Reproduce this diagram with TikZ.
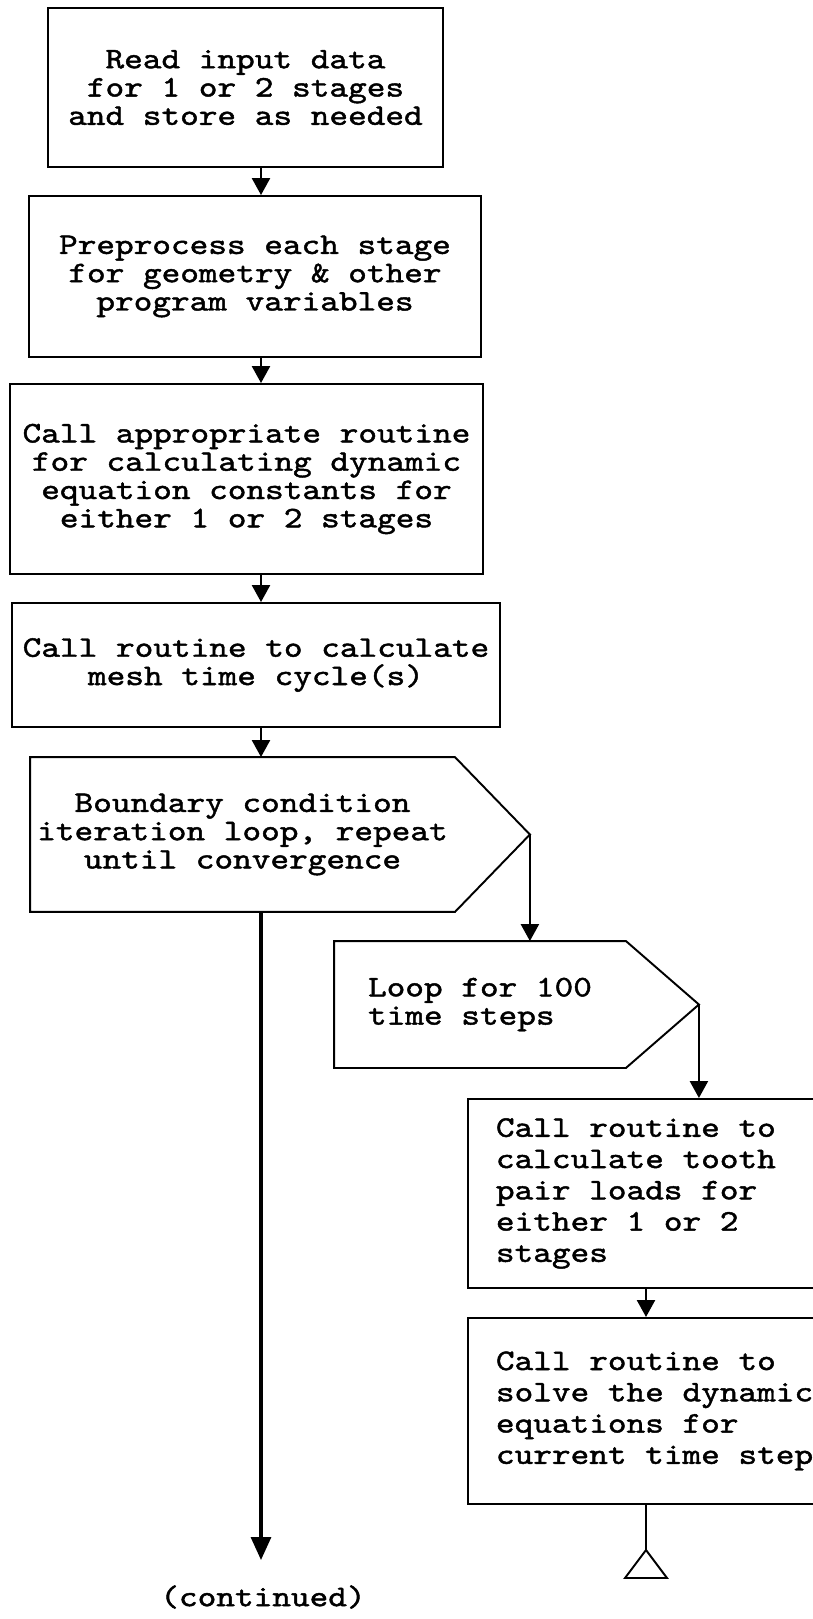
\documentclass[tikz,border=0pt]{standalone}
\usepackage{fontspec}
\newfontfamily\typer{lmmono10-regular.otf}[FakeBold=1.5, FakeStretch=1.19]
\usetikzlibrary{arrows.meta}
\newcommand\typed[1]{\typer\fontsize{17}{#1}\selectfont\lineskiplimit=-\maxdimen}

\begin{document}
\begin{tikzpicture}[x=0.02cm, y=-0.02cm,
        box/.style={draw, line width=1.1pt, inner sep=0pt, align=center, font=\typed{16.1}},
        sidebox/.style={draw, line width=1.1pt, anchor=north west, inner xsep=0.56cm,
            text width=6.74cm, align=left, font=\typed{17.8},
            execute at begin node={\spaceskip=\fontdimen2\font\relax}},
        flow/.style={line width=1.4pt, -{Triangle[length=0.34cm, width=0.36cm]}}]
            \useasboundingbox (0,0) rectangle (813,1619);
            \clip (0,0) rectangle (813,1619);

            \coordinate (spine) at (261,0);
            \coordinate (offpage) at (646,1550);
            \coordinate (contend) at (261,1560);

            \node[box, minimum width=7.9cm, minimum height=3.18cm] (read) at (245.5,87.5)
                {Read input data\\for 1 or 2 stages\\and store as needed};
            \node[box, minimum width=9.04cm, minimum height=3.22cm] (prep) at (255,276.5)
                {Preprocess each stage\\for geometry \& other\\program variables};
            \node[box, minimum width=9.46cm, minimum height=3.8cm] (consts) at (246.5,479)
                {Call appropriate routine\\for calculating dynamic\\equation constants for\\either 1 or 2 stages};
            \node[box, minimum width=9.76cm, minimum height=2.48cm] (mesh) at (256,665)
                {Call routine to calculate\\mesh time cycle(s)};
            \node[box, draw=none, minimum width=8.46cm, minimum height=3.06cm] (bc) at (242.5,834.5)
                {Boundary condition\\iteration loop, repeat\\until convergence};
            \draw[line width=1.1pt] (bc.north west) -- (bc.north east) -- ([xshift=1.5cm]bc.east) coordinate (bctip)
                -- (bc.south east) -- (bc.south west) -- cycle;
            \node[box, draw=none, align=left, minimum width=5.8cm, minimum height=2.5cm] (loop) at (480,1004.5)
                {Loop for 100\\time steps};
            \draw[line width=1.1pt] (loop.north west) -- (loop.north east) -- ([xshift=1.46cm]loop.east) coordinate (looptip)
                -- (loop.south east) -- (loop.south west) -- cycle;
            \node[sidebox, minimum height=3.78cm] (loads) at (467,1098)
                {Call routine to\\calculate tooth\\pair loads for\\either 1 or 2\\stages};
            \node[sidebox, minimum height=3.72cm] (solve) at (467,1317)
                {Call routine to\\solve the dynamic\\equations for\\current time step};
            \node[font=\typed{16.1}] (cont) at (263,1597) {(continued)};

            \draw[flow] (read.south -| spine) -- (prep.north -| spine);
            \draw[flow] (prep.south -| spine) -- (consts.north -| spine);
            \draw[flow] (consts.south -| spine) -- (mesh.north -| spine);
            \draw[flow] (mesh.south -| spine) -- (bc.north -| spine);
            \draw[flow] (bctip) -- (bctip |- loop.north);
            \draw[flow] (looptip) -- (looptip |- loads.north);
            \draw[flow] (loads.south -| offpage) -- (solve.north -| offpage);
            \draw[line width=1.8pt, -{Triangle[length=0.46cm, width=0.4cm]}] (bc.south -| spine) -- (contend);
            \draw[line width=0.9pt] (solve.south -| offpage) -- (offpage);
            \draw[line width=1.1pt] (offpage) -- ++(-21,28) -- ++(42,0) -- cycle;
        \end{tikzpicture}
\end{document}
